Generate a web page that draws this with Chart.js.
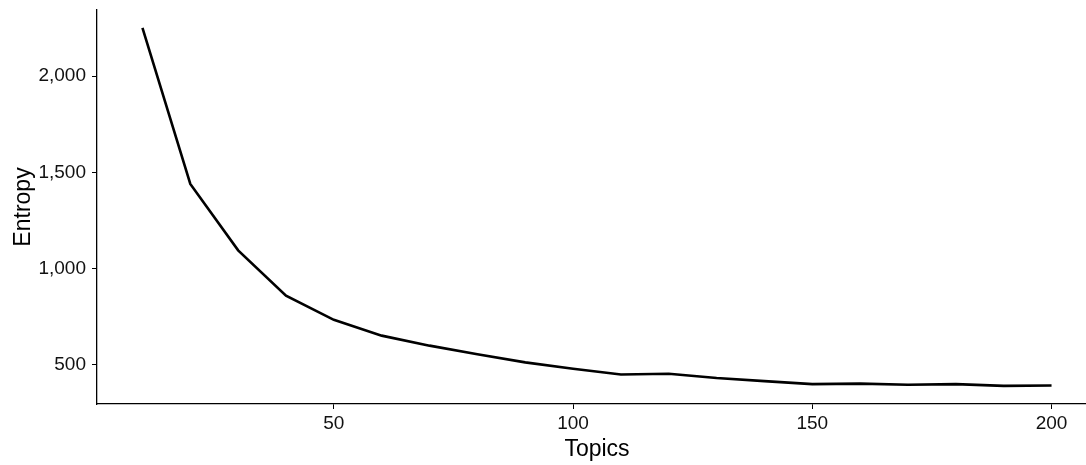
<!DOCTYPE html>
<html>
<head>
<meta charset="utf-8">
<script src="https://cdn.jsdelivr.net/npm/chart.js@4.4.1/dist/chart.umd.min.js"></script>
<style>
    html, body { margin: 0; padding: 0; background: #fff; overflow: hidden; }
    #wrap { width: 1100px; height: 465px; }
</style>
</head>
<body>
<div id="wrap"><canvas id="entropyChart" width="1100" height="465"></canvas></div>
<script>
// values
const topics = [10, 20, 30, 40, 50, 60, 70, 80, 90, 100, 110, 120, 130, 140, 150, 160, 170, 180, 190, 200];
const entropy = [2250, 1440, 1095, 860, 734, 652, 600, 555, 513, 480, 450, 454, 432, 416, 400, 403, 397, 400, 391, 393];
const xTicks = [50, 100, 150, 200];
const yTicks = [500, 1000, 1500, 2000];

const points = topics.map((t, i) => ({ x: t, y: entropy[i] }));
const tickFont = { family: 'Liberation Sans, Arial, sans-serif', size: 19 };
const titleFont = { family: 'Liberation Sans, Arial, sans-serif', size: 23 };

const ctx = document.getElementById('entropyChart').getContext('2d');
new Chart(ctx, {
    type: 'line',
    data: {
        datasets: [{
            data: points,
            borderColor: '#000',
            borderWidth: 2.6,
            pointRadius: 0,
            tension: 0,
            fill: false
        }]
    },
    options: {
        responsive: false,
        animation: false,
        layout: { padding: { top: 10, right: 3, left: 0, bottom: 0 } },
        plugins: { legend: { display: false }, tooltip: { enabled: false } },
        scales: {
            x: {
                type: 'linear',
                min: 0.5,
                max: 209.5,
                afterFit: s => { s.height = 61; s.paddingRight = 0; },
                afterBuildTicks: s => { s.ticks = xTicks.map(v => ({ value: v })); },
                grid: { display: true, drawOnChartArea: false, drawTicks: true, tickLength: 5, color: '#000', lineWidth: 1 },
                border: { display: true, color: '#000', width: 1.3 },
                ticks: { color: '#111', font: tickFont, padding: 3, maxRotation: 0, includeBounds: false },
                title: { display: true, text: 'Topics', color: '#000', font: titleFont, padding: { top: 0, bottom: 2 } }
            },
            y: {
                min: 297,
                max: 2343,
                afterFit: s => { s.width = 97; s.paddingTop = 0; },
                afterBuildTicks: s => { s.ticks = yTicks.map(v => ({ value: v })); },
                grid: { display: true, drawOnChartArea: false, drawTicks: true, tickLength: 5, color: '#000', lineWidth: 1 },
                border: { display: true, color: '#000', width: 1.3 },
                ticks: { color: '#111', font: tickFont, padding: 6, includeBounds: false,
                    callback: v => v.toLocaleString('en-US') },
                title: { display: true, text: 'Entropy', color: '#000', font: titleFont, padding: { top: 10, bottom: 0 } }
            }
        }
    }
});
</script>
</body>
</html>
